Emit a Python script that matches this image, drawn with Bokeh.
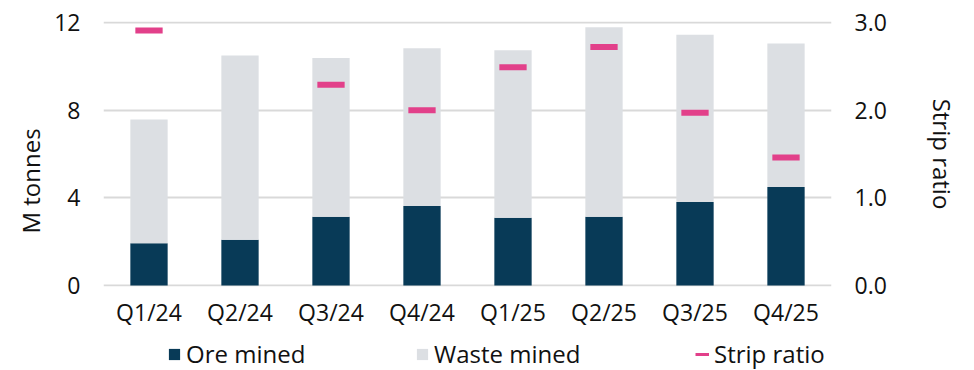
import math
from bokeh.plotting import figure
from bokeh.layouts import column
from bokeh.models import (Range1d, LinearAxis, FixedTicker, NumeralTickFormatter,
                          Legend, LegendItem, Title, ColumnDataSource)
from bokeh.embed import file_html
from bokeh.resources import INLINE

quarters = ["Q1/24", "Q2/24", "Q3/24", "Q4/24", "Q1/25", "Q2/25", "Q3/25", "Q4/25"]
ore_mined = [1.93, 2.08, 3.14, 3.62, 3.09, 3.14, 3.81, 4.49]
waste_mined = [5.65, 8.42, 7.24, 7.21, 7.65, 8.65, 7.64, 6.56]
strip_ratio = [2.91, float("nan"), 2.29, 2.00, 2.49, 2.72, 1.97, 1.46]

left_ticks = [0, 4, 8, 12]
right_ticks = [0, 1, 2, 3]

FONT = "Open Sans"
FS_TICK = "23px"
FS_LAB = "24px"
TXT = "#111111"
NAVY = "#083A57"
GREY = "#DCDFE3"
PINK = "#E2408A"

src = ColumnDataSource(dict(q=quarters, ore=ore_mined, waste=waste_mined, strip=strip_ratio))

p = figure(x_range=quarters, y_range=Range1d(-0.05, 12.05), width=974, height=330,
           output_backend="svg", toolbar_location=None,
           min_border_left=103, min_border_right=143, min_border_top=21, min_border_bottom=42)
p.extra_y_ranges = {"ratio": Range1d(-0.0125, 3.0125)}
p.outline_line_color = None
p.background_fill_color = "white"
p.border_fill_color = "white"

bars = p.vbar_stack(["ore", "waste"], x="q", width=0.41, source=src,
                    color=[NAVY, GREY], line_color=None)
p.rect(x="q", y="strip", width=0.3, height=6, height_units="screen", source=src,
       y_range_name="ratio", fill_color=PINK, line_color=None)

# grid
p.xgrid.grid_line_color = None
p.ygrid.grid_line_color = "#D9D9D9"
p.ygrid.grid_line_width = 2
p.ygrid.ticker = FixedTicker(ticks=left_ticks)

# axes
for ax in [p.xaxis[0], p.yaxis[0]]:
    ax.axis_line_color = None
    ax.major_tick_line_color = None
    ax.minor_tick_line_color = None
    ax.major_label_text_font = FONT
    ax.major_label_text_font_size = FS_TICK
    ax.major_label_text_color = TXT

p.xaxis.major_label_standoff = 3
p.yaxis.ticker = FixedTicker(ticks=left_ticks)
p.yaxis.major_label_standoff = 17

ra = LinearAxis(y_range_name="ratio", ticker=FixedTicker(ticks=right_ticks),
                formatter=NumeralTickFormatter(format="0.0"))
ra.axis_line_color = None
ra.major_tick_line_color = None
ra.minor_tick_line_color = None
ra.major_label_text_font = FONT
ra.major_label_text_font_size = FS_TICK
ra.major_label_text_color = TXT
ra.major_label_standoff = 17
ra.axis_label = "Strip ratio"
ra.axis_label_text_font = FONT
ra.axis_label_text_font_size = FS_LAB
ra.axis_label_text_font_style = "normal"
ra.axis_label_text_color = TXT
ra.axis_label_standoff = 36
p.add_layout(ra, "right")

ttl = Title(text="M tonnes", align="left", offset=53, standoff=10,
            text_font=FONT, text_font_size=FS_LAB, text_font_style="normal", text_color=TXT)
p.add_layout(ttl, "left")

# legend strip (its frame is aligned with the main plot's frame by the column layout)
q = figure(width=974, height=40, x_range=Range1d(0, 1), y_range=Range1d(0, 1),
           output_backend="svg", toolbar_location=None, min_border=0,
           x_axis_location=None, y_axis_location=None)
q.grid.visible = False
q.outline_line_color = None
q.background_fill_color = "white"
q.border_fill_color = "white"
# zero-size proxy glyphs, only used to draw the legend swatches
r_ore = q.vbar(x=[0.5], top=[0.5], bottom=[0.5], width=0, color=NAVY, line_color=None)
r_waste = q.vbar(x=[0.5], top=[0.5], bottom=[0.5], width=0, color=GREY, line_color=None)
r_strip = q.line(x=[0.5], y=[0.5], line_color=PINK, line_width=3)

legend_labels = ["Ore mined", "Waste mined", "Strip ratio"]
legend_renderers = [r_ore, r_waste, r_strip]
legend_offsets = [64, 312, 592]
for lbl, rend, off in zip(legend_labels, legend_renderers, legend_offsets):
    lg = Legend(items=[LegendItem(label=lbl, renderers=[rend])],
                orientation="horizontal", location=(off, 0),
                glyph_width=14, glyph_height=14, label_standoff=5,
                padding=0, margin=0, border_line_color=None,
                background_fill_color=None, background_fill_alpha=0,
                label_text_font=FONT, label_text_font_size=FS_LAB, label_text_color=TXT)
    q.add_layout(lg)

layout = column(p, q, spacing=0)
open("out.html", "w").write(file_html(layout, INLINE))
